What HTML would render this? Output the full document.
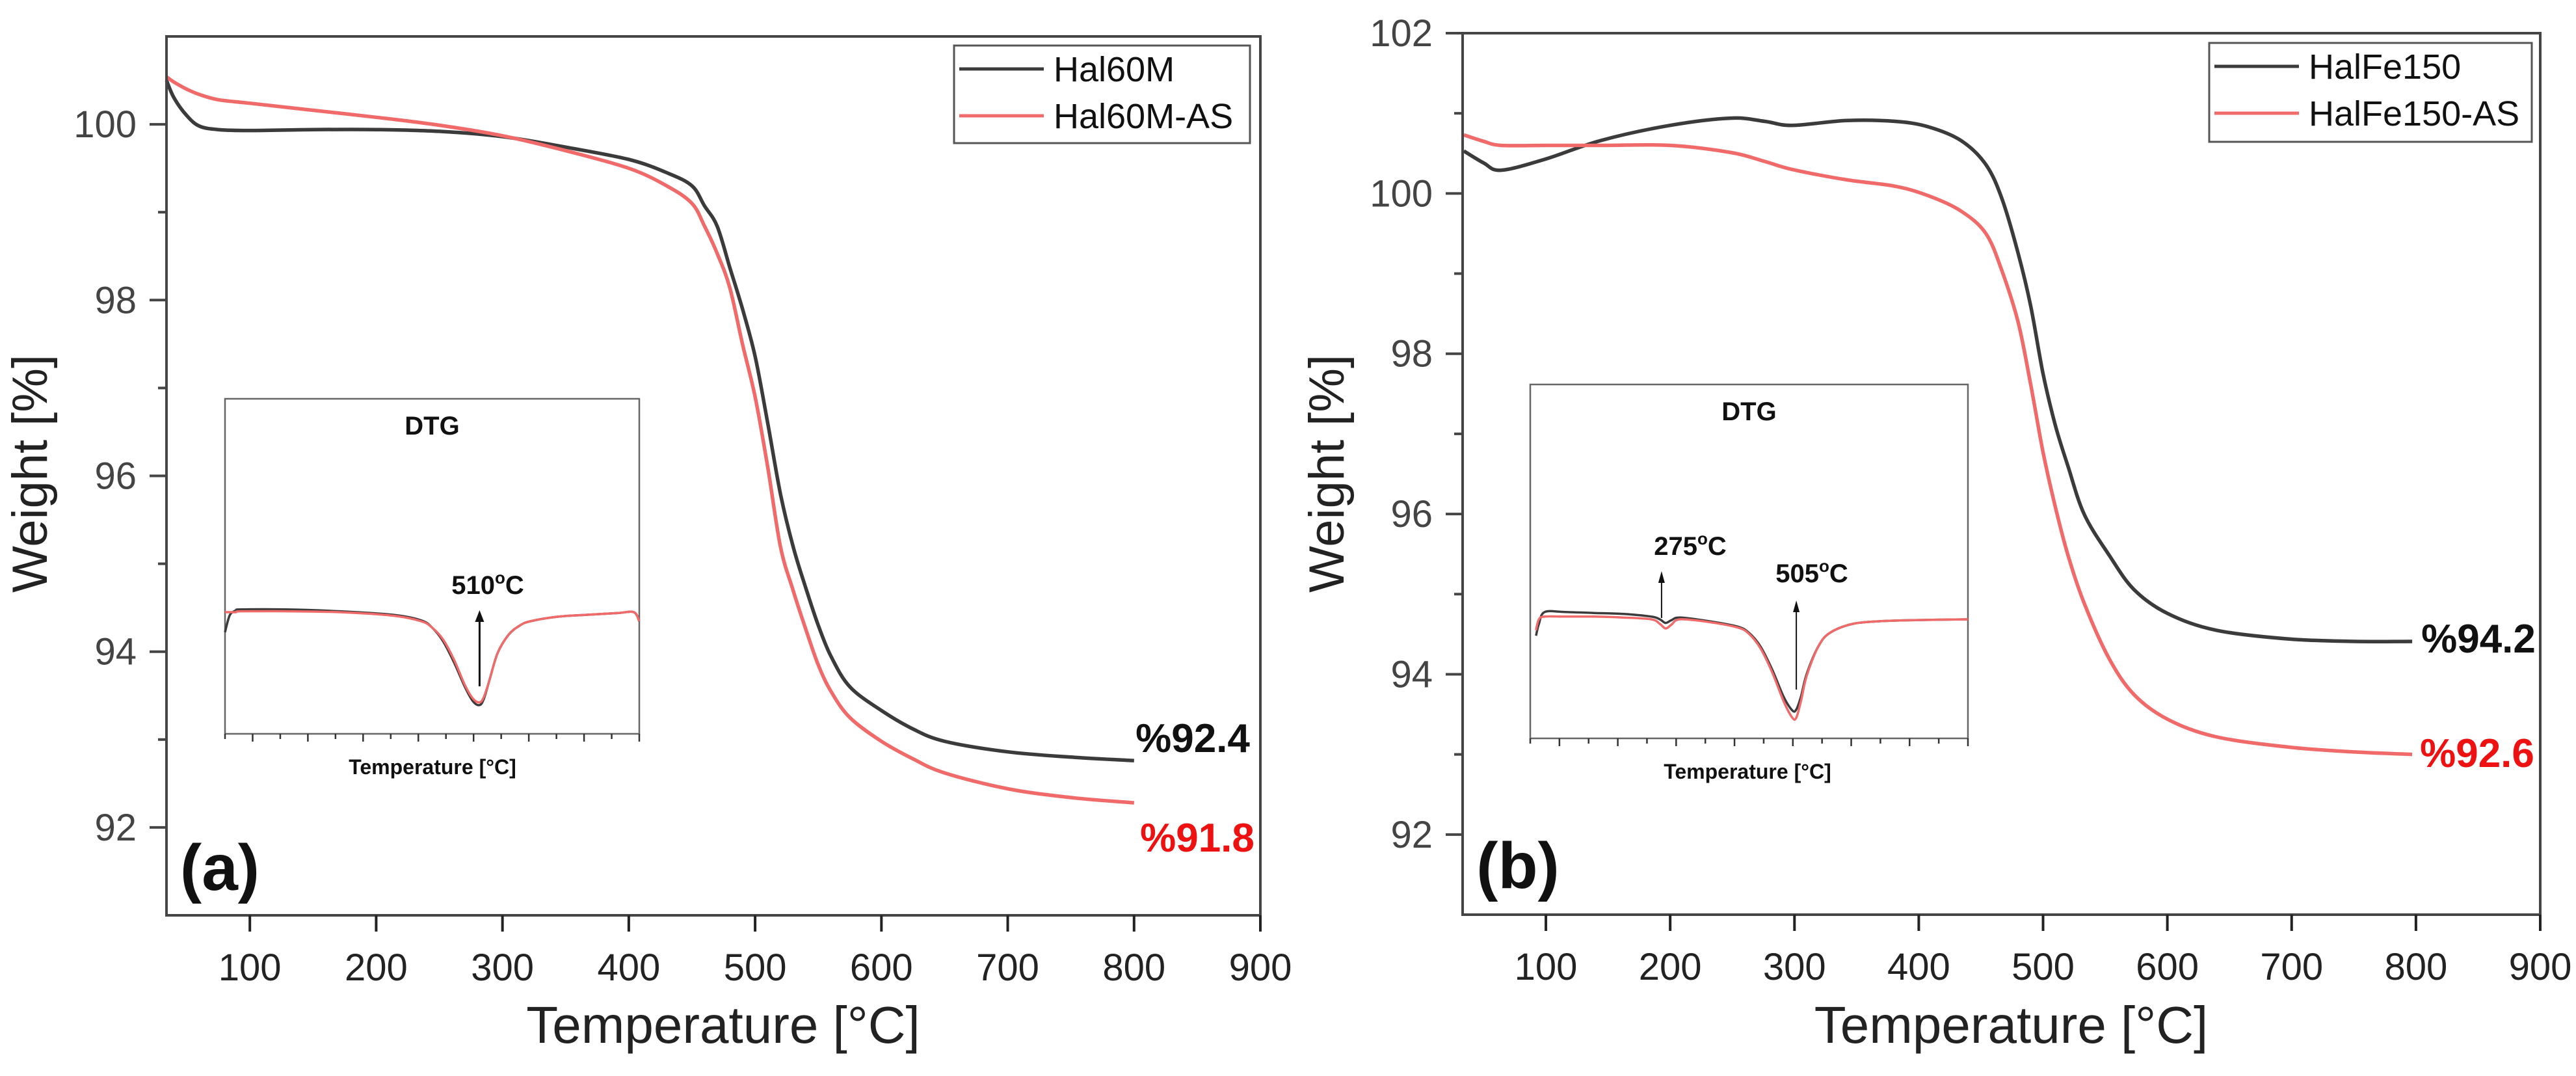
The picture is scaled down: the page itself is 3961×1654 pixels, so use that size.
<!DOCTYPE html>
<html><head><meta charset="utf-8">
<style>
html,body{margin:0;padding:0;background:#fff;}
svg{display:block;font-family:"Liberation Sans",Arial,sans-serif;}
</style></head>
<body>
<svg id="fig" width="3961" height="1654" viewBox="0 0 3961 1654" xmlns="http://www.w3.org/2000/svg"></svg>
<script>
// ---- Panel (a) data ----
const tempA = [34,40,50,60,75,100,150,200,250,300,350,400,430,450,460,470,480,490,500,510,520,530,540,550,560,575,600,625,650,700,750,800];
const hal60m = [100.5,100.3,100.1,99.98,99.94,99.93,99.94,99.94,99.92,99.86,99.74,99.6,99.45,99.3,99.07,98.84,98.37,97.9,97.36,96.6,95.8,95.2,94.73,94.3,93.95,93.6,93.33,93.12,92.98,92.86,92.8,92.76];
const hal60mAS = [100.54,100.48,100.4,100.34,100.28,100.24,100.16,100.08,99.99,99.87,99.7,99.5,99.3,99.1,98.84,98.53,98.14,97.5,96.9,96.1,95.2,94.7,94.26,93.85,93.55,93.25,92.98,92.78,92.62,92.44,92.34,92.28];
// ---- Panel (b) data ----
const tempB = [34,50,64,100,144,200,249,276,298,342,381,408,434,454,467,480,490,500,510,520,533,553,573,600,639,698,751,797];
const halFe150 = [100.53,100.38,100.29,100.43,100.66,100.85,100.94,100.9,100.85,100.91,100.9,100.83,100.66,100.36,99.93,99.25,98.6,97.75,97.1,96.6,96.0,95.49,95.06,94.76,94.55,94.44,94.41,94.41];
const halFe150AS = [100.73,100.65,100.6,100.6,100.6,100.6,100.51,100.4,100.3,100.17,100.09,99.97,99.78,99.5,99.03,98.39,97.62,96.77,96.08,95.49,94.89,94.2,93.75,93.44,93.22,93.09,93.03,93.0];
// ---- Inset DTG data (arbitrary units) ----
const dtgTempA = [40,45,50,60,70,150,250,350,400,420,440,460,480,495,507,515,525,540,560,580,600,650,700,760,790,800];
const dtgA1 = [-0.22,-0.1,-0.02,0.02,0.03,0.03,0.01,-0.03,-0.09,-0.17,-0.32,-0.55,-0.82,-0.98,-1.02,-0.95,-0.75,-0.45,-0.25,-0.15,-0.1,-0.05,-0.03,-0.01,0.0,-0.1];
const dtgA2 = [0.0,0.0,0.0,0.0,0.01,0.01,0.0,-0.04,-0.1,-0.17,-0.3,-0.52,-0.8,-0.95,-0.99,-0.93,-0.75,-0.45,-0.25,-0.15,-0.1,-0.05,-0.03,-0.01,0.0,-0.1];
const dtgTempB = [50,55,65,100,150,200,250,265,275,285,300,350,400,420,440,460,480,495,502,510,520,540,560,600,650,700,800];
const dtgB1 = [-0.18,-0.05,0.08,0.08,0.07,0.06,0.03,0.0,-0.04,-0.01,0.02,-0.02,-0.08,-0.15,-0.3,-0.55,-0.85,-1.0,-0.99,-0.85,-0.6,-0.3,-0.15,-0.05,-0.02,-0.01,0.0];
const dtgB2 = [-0.12,0.0,0.03,0.03,0.03,0.02,0.0,-0.05,-0.1,-0.06,0.0,-0.03,-0.09,-0.16,-0.32,-0.58,-0.9,-1.08,-1.08,-0.9,-0.62,-0.3,-0.15,-0.05,-0.02,-0.01,0.0];
const xTicks = [100,200,300,400,500,600,700,800,900];
const yTicksA = [92,94,96,98,100];
const yTicksB = [92,94,96,98,100,102];

const NS = "http://www.w3.org/2000/svg";
const svg = document.getElementById('fig');
function mk(tag, attrs, parent){
  const e = document.createElementNS(NS, tag);
  for (const k in attrs) e.setAttribute(k, attrs[k]);
  (parent||svg).appendChild(e);
  return e;
}
const BLACK = "#3b3b3b", RED = "#f06a6a", AX = "#454545";

// Catmull-Rom smooth path through points
function smoothPath(pts){
  let d = 'M' + pts[0][0].toFixed(1) + ' ' + pts[0][1].toFixed(1);
  for (let i = 0; i < pts.length - 1; i++) {
    const p0 = pts[Math.max(0, i-1)], p1 = pts[i], p2 = pts[i+1], p3 = pts[Math.min(pts.length-1, i+2)];
    const c1x = p1[0] + (p2[0]-p0[0])/6, c1y = p1[1] + (p2[1]-p0[1])/6;
    const c2x = p2[0] - (p3[0]-p1[0])/6, c2y = p2[1] - (p3[1]-p1[1])/6;
    d += 'C' + c1x.toFixed(1)+' '+c1y.toFixed(1)+' '+c2x.toFixed(1)+' '+c2y.toFixed(1)+' '+p2[0].toFixed(1)+' '+p2[1].toFixed(1);
  }
  return d;
}

function panel(cfg){
  const g = mk('g', {});
  
  
  const sx = v => cfg.L + (v - cfg.x0) / (cfg.x1 - cfg.x0) * (cfg.R - cfg.L);
  const sy = v => cfg.B - (v - cfg.y0) / (cfg.y1 - cfg.y0) * (cfg.B - cfg.T);
  cfg.series.forEach(s => {
    const pts = cfg.temps.map((t,i) => [sx(t), sy(s.vals[i])]);
    const p = mk('path', {d: smoothPath(pts), fill: 'none', stroke: s.color, 'stroke-width': 5.5, 'stroke-linejoin': 'round'}, g);
    
    
  });
  const fr = mk('rect', {x: cfg.L, y: cfg.T, width: cfg.R - cfg.L, height: cfg.B - cfg.T, fill: 'none', stroke: AX, 'stroke-width': 4}, g);
  
  
  xTicks.forEach(t => {
    const x = sx(t);
    const tk = mk('line', {x1: x, x2: x, y1: cfg.B, y2: cfg.B + 25, stroke: '#222', 'stroke-width': 4}, g);
    
    
    const lb = mk('text', {x: x, y: cfg.B + 100, 'text-anchor': 'middle', 'font-size': 58, fill: '#222'}, g);
    lb.textContent = t;
    
    
  });
  cfg.yTicks.forEach(v => {
    const y = sy(v);
    const tk = mk('line', {x1: cfg.L - 26, x2: cfg.L, y1: y, y2: y, stroke: AX, 'stroke-width': 4}, g);
    
    
    const lb = mk('text', {x: cfg.L - 46, y: y + 20, 'text-anchor': 'end', 'font-size': 58, fill: '#444'}, g);
    lb.textContent = v;
    
    
    if (v + 1 < cfg.y1) {
      const my = sy(v + 1);
      const mt = mk('line', {x1: cfg.L - 13, x2: cfg.L, y1: my, y2: my, stroke: AX, 'stroke-width': 4}, g);
      
      
    }
  });
  const xt = mk('text', {x: (cfg.L + cfg.R)/2 + 15, y: 1603, 'text-anchor': 'middle', 'font-size': 80, fill: '#222'}, g);
  xt.textContent = 'Temperature [°C]';
  
  
  const yt = mk('text', {x: 0, y: 0, 'text-anchor': 'middle', 'font-size': 76, fill: '#222', transform: `translate(${cfg.ytx},728) rotate(-90)`}, g);
  yt.textContent = 'Weight [%]';
  
  
  const lg = mk('g', {}, g);
  
  
  const lb = cfg.legend;
  mk('rect', {x: lb.x, y: lb.y, width: lb.w, height: lb.h, fill: '#fff', stroke: '#555', 'stroke-width': 3}, lg);
  cfg.series.forEach((s,i) => {
    const yy = lb.y + 36 + i * 72;
    const e = mk('g', {}, lg);
    
    
    mk('line', {x1: lb.x + 8, x2: lb.x + 138, y1: yy, y2: yy, stroke: s.color, 'stroke-width': 5}, e);
    const t = mk('text', {x: lb.x + 153, y: yy + 19, 'font-size': 54, fill: '#111'}, e);
    t.textContent = s.label;
  });
  cfg.ends.forEach(en => {
    const t = mk('text', {x: en.x, y: en.y, 'text-anchor': 'middle', 'font-size': 62, 'font-weight': 'bold', fill: en.color}, g);
    t.textContent = en.text;
    
    
  });
  const pl = mk('text', {x: cfg.tag.x, y: cfg.tag.y, 'text-anchor': 'middle', 'font-size': 100, 'font-weight': 'bold', fill: '#111'}, g);
  pl.textContent = cfg.tag.text;
  
  
  inset(cfg.inset, g);
}

function inset(c, parent){
  const g = mk('g', {}, parent);
  
  
  const sx = v => c.L + (v - 40) / (800 - 40) * (c.R - c.L);
  const sy = v => c.base - v * c.unit;
  mk('rect', {x: c.L, y: c.T, width: c.R - c.L, height: c.B - c.T, fill: '#fff', stroke: '#666', 'stroke-width': 2.5}, g);
  c.series.forEach(s => {
    const pts = c.temps.map((t,i) => [sx(t), sy(s.vals[i])]);
    const p = mk('path', {d: smoothPath(pts), fill: 'none', stroke: s.color, 'stroke-width': 3.5, 'stroke-linejoin': 'round'}, g);
    
    
  });
  for (let i = 0; i <= 15; i++) {
    const x = c.L + i * (c.R - c.L) / 15;
    const tk = mk('line', {x1: x, x2: x, y1: c.B, y2: c.B + (i % 2 ? 12 : 8), stroke: '#333', 'stroke-width': 2.5}, g);
    
    
  }
  const tt = mk('text', {x: (c.L + c.R)/2, y: c.T + 55, 'text-anchor': 'middle', 'font-size': 40, 'font-weight': 'bold', fill: '#111'}, g);
  tt.textContent = 'DTG';
  
  
  const xl = mk('text', {x: c.xlx, y: c.B + 62, 'text-anchor': 'middle', 'font-size': 32, 'font-weight': 'bold', fill: '#111'}, g);
  xl.textContent = 'Temperature [°C]';
  
  
  c.arrows.forEach(a => {
    const x = sx(a.t);
    const ar = mk('g', {}, g);
    
    
    mk('line', {x1: x, x2: x, y1: a.y2, y2: a.y1 + 14, stroke: '#111', 'stroke-width': a.w}, ar);
    mk('polygon', {points: `${x-a.h},${a.y1+18} ${x+a.h},${a.y1+18} ${x},${a.y1}`, fill: '#111'}, ar);
    const t = mk('text', {x: a.lx, y: a.ly, 'text-anchor': 'middle', 'font-size': 40, 'font-weight': 'bold', fill: '#111'}, g);
    t.textContent = a.text;
    const sup = mk('tspan', {'font-size': 26, dy: -16}, t);
    sup.textContent = 'o';
    const c2 = mk('tspan', {dy: 16}, t);
    c2.textContent = 'C';
    
    
  });
}

panel({
  name: 'panel-a', L: 256, R: 1938, T: 56, B: 1407, x0: 34, x1: 900, y0: 91, y1: 101,
  yTicks: yTicksA, temps: tempA, ytx: 72,
  series: [{vals: hal60m, color: BLACK, label: 'Hal60M', dn: 'series-hal60m'},
           {vals: hal60mAS, color: RED, label: 'Hal60M-AS', dn: 'series-hal60m-as'}],
  legend: {x: 1467, y: 70, w: 455, h: 150},
  ends: [{x: 1834, y: 1156, text: '%92.4', color: '#111'}, {x: 1841, y: 1309, text: '%91.8', color: '#ee1111'}],
  tag: {x: 338, y: 1368, text: '(a)'},
  inset: {L: 346, R: 983, T: 613, B: 1128, base: 941, unit: 140, temps: dtgTempA, xlx: 665,
    series: [{vals: dtgA1, color: BLACK, dn: 'dtg-hal60m'}, {vals: dtgA2, color: RED, dn: 'dtg-hal60m-as'}],
    arrows: [{t: 507, y1: 938, y2: 1055, w: 3, h: 7, text: '510', lx: 750, ly: 913}]}
});
panel({
  name: 'panel-b', L: 2249, R: 3906, T: 51, B: 1406, x0: 33, x1: 900, y0: 91, y1: 102,
  yTicks: yTicksB, temps: tempB, ytx: 2066,
  series: [{vals: halFe150, color: BLACK, label: 'HalFe150', dn: 'series-halfe150'},
           {vals: halFe150AS, color: RED, label: 'HalFe150-AS', dn: 'series-halfe150-as'}],
  legend: {x: 3397, y: 66, w: 496, h: 152},
  ends: [{x: 3811, y: 1003, text: '%94.2', color: '#111'}, {x: 3809, y: 1179, text: '%92.6', color: '#ee1111'}],
  tag: {x: 2334, y: 1365, text: '(b)'},
  inset: {L: 2353, R: 3026, T: 591, B: 1135, base: 952, unit: 140, temps: dtgTempB, xlx: 2687,
    series: [{vals: dtgB1, color: BLACK, dn: 'dtg-halfe150'}, {vals: dtgB2, color: RED, dn: 'dtg-halfe150-as'}],
    arrows: [{t: 268, y1: 878, y2: 950, w: 2, h: 5, text: '275', lx: 2599, ly: 853},
             {t: 502, y1: 923, y2: 1060, w: 2, h: 5, text: '505', lx: 2786, ly: 895}]}
});
</script>
</body></html>
